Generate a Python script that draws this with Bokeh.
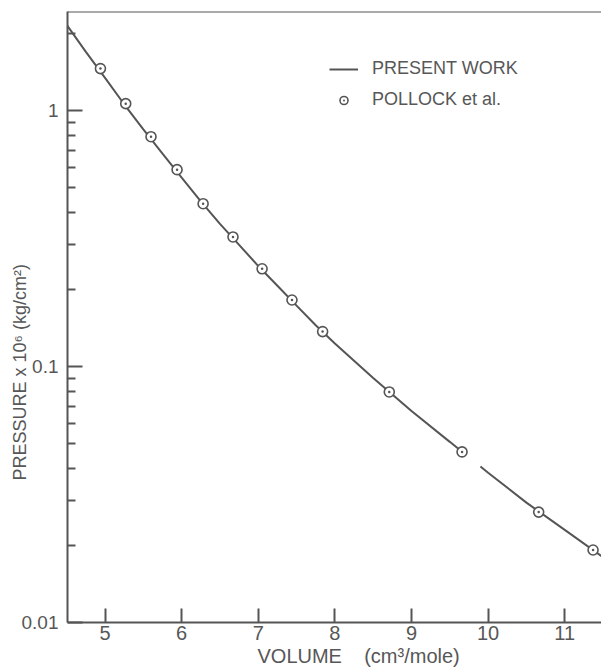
from bokeh.plotting import figure
from bokeh.models import FixedTicker, Legend, LegendItem, Span, Range1d, Title
from bokeh.embed import file_html
from bokeh.resources import INLINE

# ---- data ----
curve_volume = [4.5, 4.75, 5.0, 5.25, 5.5, 5.75, 6.0, 6.25, 6.5, 6.75, 7.0, 7.25,
                7.5, 7.75, 8.0, 8.5, 9.0, 9.5, 9.7, float("nan"), 9.9, 10.0, 10.5,
                11.0, 11.5]
curve_pressure = [2.163, 1.698, 1.343, 1.059, 0.845, 0.679, 0.547, 0.442, 0.361,
                  0.299, 0.247, 0.207, 0.173, 0.145, 0.123, 0.0902, 0.0671, 0.0508,
                  0.0454, float("nan"), 0.0407, 0.0385, 0.0294, 0.0230, 0.0180]

pollock_volume = [4.94, 5.27, 5.60, 5.94, 6.28, 6.67, 7.05, 7.44, 7.84, 8.71, 9.66,
                  10.66, 11.37]
pollock_pressure = [1.46, 1.065, 0.791, 0.588, 0.433, 0.321, 0.241, 0.182, 0.137,
                    0.0796, 0.0464, 0.0270, 0.0192]

x_ticks = [5, 6, 7, 8, 9, 10, 11]
y_ticks = [0.01, 0.1, 1]
y_tick_labels = {0.01: "0.01", 0.1: "0.1", 1: "1"}
y_minor = [0.02, 0.03, 0.04, 0.05, 0.06, 0.07, 0.08, 0.09,
           0.2, 0.3, 0.4, 0.5, 0.6, 0.7, 0.8, 0.9, 2]

series_labels = ["PRESENT WORK", "POLLOCK et al."]
x_label = "VOLUME\u00a0\u00a0\u00a0 (cm³/mole)"
y_label = "PRESSURE x 10⁶  (kg/cm²)"

FONT = "Liberation Sans"
INK = "#555555"
TXT = "#575757"

x_lo, x_hi = 4.51, 11.48
y_lo, y_hi = 0.01, 2.44

p = figure(width=601, height=670, x_range=Range1d(x_lo, x_hi),
           y_range=Range1d(y_lo, y_hi), y_axis_type="log",
           output_backend="svg", toolbar_location=None,
           min_border_left=67, min_border_right=0, min_border_top=11,
           min_border_bottom=48)
p.outline_line_color = None
p.xgrid.visible = False
p.ygrid.visible = False
p.background_fill_color = "white"
p.border_fill_color = "white"

for ax in (p.xaxis[0], p.yaxis[0]):
    ax.axis_line_color = INK
    ax.axis_line_width = 2
    ax.major_tick_line_color = INK
    ax.major_tick_line_width = 2
    ax.minor_tick_line_color = INK
    ax.minor_tick_line_width = 2
    ax.major_tick_out = 0
    ax.minor_tick_out = 0
    ax.major_label_text_font = FONT
    ax.major_label_text_color = TXT

p.xaxis.ticker = FixedTicker(ticks=x_ticks)
p.xaxis.major_tick_in = 14
p.xaxis.minor_tick_in = 0
p.xaxis.major_label_standoff = 3
p.xaxis.major_label_text_font_size = "20px"

p.yaxis.ticker = FixedTicker(ticks=y_ticks, minor_ticks=y_minor)
p.yaxis.major_label_overrides = y_tick_labels
p.yaxis.major_tick_in = 15
p.yaxis.minor_tick_in = 8
p.yaxis.major_label_standoff = 9
p.yaxis.major_label_text_font_size = "19px"

# top frame line
p.add_layout(Span(location=y_hi, dimension="width", line_color=INK, line_width=2))

r_line = p.line(curve_volume, curve_pressure, line_color=INK, line_width=2)
r_pts = p.scatter(pollock_volume, pollock_pressure, marker="circle_dot", size=10,
                  line_color=INK, line_width=1.6, fill_color="white")

legend = Legend(items=[LegendItem(label=series_labels[0], renderers=[r_line]),
                       LegendItem(label=series_labels[1], renderers=[r_pts])],
                location=(262, 512), border_line_color=None,
                background_fill_alpha=0, padding=0, margin=0, spacing=10,
                glyph_width=29, glyph_height=20, label_height=20,
                label_standoff=14, label_text_font=FONT,
                label_text_font_size="18px", label_text_color=TXT)
p.add_layout(legend)

p.add_layout(Title(text=x_label, align="left", offset=190, vertical_align="bottom",
                   standoff=0, text_font=FONT, text_font_size="20px",
                   text_font_style="normal", text_color=TXT), "below")
p.add_layout(Title(text=y_label, align="left", offset=142, vertical_align="bottom",
                   standoff=-22, text_font=FONT, text_font_size="18px",
                   text_font_style="normal", text_color=TXT), "left")

open("out.html", "w").write(file_html(p, INLINE))
